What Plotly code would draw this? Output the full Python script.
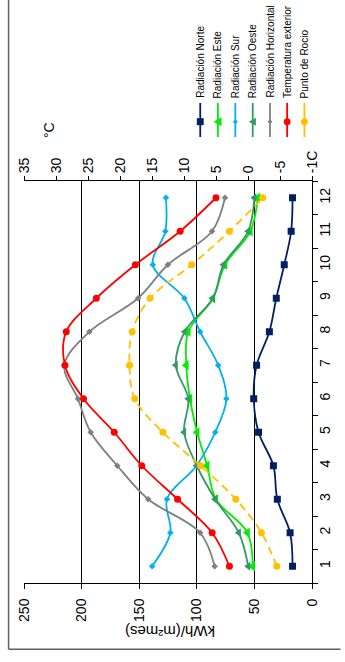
import plotly.graph_objects as go

# Monthly solar radiation (kWh/(m2 mes)) per orientation and monthly temperatures (°C)
months = [str(m) for m in range(1, 13)]
rad_norte = [16.9, 19.0, 30.1, 33.5, 46.4, 50.6, 48.1, 37.0, 31.0, 24.1, 18.1, 16.9]
rad_este = [51.5, 56.0, 83.4, 91.0, 99.7, 105.9, 109.1, 107.4, 86.0, 75.5, 53.5, 47.0]
rad_sur = [138.8, 123.0, 125.9, 100.3, 84.0, 74.3, 81.4, 97.1, 110.8, 138.2, 127.3, 126.8]
rad_oeste = [55.4, 63.5, 84.0, 100.0, 111.0, 107.4, 118.2, 110.5, 86.0, 76.8, 55.4, 50.0]
rad_horizontal = [84.5, 97.1, 142.2, 169.0, 192.1, 203.2, 215.0, 193.2, 151.0, 125.1, 86.8, 75.5]
temp_exterior = [2.9, 5.6, 11.0, 16.6, 20.9, 25.7, 28.6, 28.4, 23.7, 17.6, 10.6, 5.0]
punto_rocio = [-4.5, -2.1, 1.9, 7.4, 13.3, 17.7, 18.5, 18.1, 15.3, 8.8, 2.9, -2.3]

kwh_ticks = [0, 50, 100, 150, 200, 250]
temp_ticks = [35, 30, 25, 20, 15, 10, 5, 0, -5, -10]

W, H = 345, 662
ML, MR, MT, MB = 24, 28, 181, 79
FONT = "Liberation Sans, Arial, sans-serif"


def px_x(px):
    return (px - ML) / (W - ML - MR)


def px_y(py):
    return (H - MB - py) / (H - MT - MB)


def path_from_px(points):
    # closed SVG path in paper coordinates from pixel vertices
    parts = [f"{'M' if i == 0 else 'L'} {px_x(x):.5f},{px_y(y):.5f}" for i, (x, y) in enumerate(points)]
    return " ".join(parts) + " Z"


def legend_symbol(sym, cx, cy, size, color):
    r = size / 2
    if sym == "square":
        return dict(type="rect", xref="paper", yref="paper",
                    x0=px_x(cx - r), x1=px_x(cx + r), y0=px_y(cy + r), y1=px_y(cy - r),
                    fillcolor=color, line=dict(width=0))
    if sym == "circle":
        return dict(type="circle", xref="paper", yref="paper",
                    x0=px_x(cx - r), x1=px_x(cx + r), y0=px_y(cy + r), y1=px_y(cy - r),
                    fillcolor=color, line=dict(width=0))
    if sym == "triangle-left":
        pts = [(cx - r, cy), (cx + r * 0.8, cy - r), (cx + r * 0.8, cy + r)]
    else:  # diamond
        pts = [(cx, cy - r), (cx + r, cy), (cx, cy + r), (cx - r, cy)]
    return dict(type="path", xref="paper", yref="paper", path=path_from_px(pts),
                fillcolor=color, line=dict(width=0))


series = [
    # name, values, colour, symbol, size, dash, secondary axis
    ("Radiación Norte", rad_norte, "#002060", "square", 7, "solid", False),
    ("Radiación Este", rad_este, "#00EE00", "triangle-left", 9, "solid", False),
    ("Radiación Sur", rad_sur, "#00B0F0", "diamond", 5, "solid", False),
    ("Radiación Oeste", rad_oeste, "#339966", "triangle-left", 8, "solid", False),
    ("Radiación Horizontal", rad_horizontal, "#808080", "diamond", 5, "solid", False),
    ("Temperatura exterior", temp_exterior, "#FF0000", "circle", 7, "solid", True),
    ("Punto de Rocio", punto_rocio, "#FFC000", "circle", 7, "8px,5px", True),
]

fig = go.Figure()
for name, vals, color, sym, size, dash, sec in series:
    fig.add_trace(go.Scatter(
        x=vals, y=months, name=name, mode="lines+markers",
        xaxis="x2" if sec else "x", yaxis="y",
        line=dict(color=color, width=1.8, shape="spline", smoothing=1, dash=dash),
        marker=dict(color=color, symbol=sym, size=size),
        showlegend=False,
    ))

# Legend drawn vertically above the plot
leg_x = [203.3, 221.3, 239.0, 256.7, 274.3, 291.7, 309.3]
shapes = []
annotations = []
for (name, vals, color, sym, size, dash, sec), lx in zip(series, leg_x):
    shapes.append(dict(type="line", xref="paper", yref="paper",
                       x0=px_x(lx), x1=px_x(lx), y0=px_y(103), y1=px_y(137),
                       line=dict(color=color, width=1.8)))
    shapes.append(legend_symbol(sym, lx, 121.7, size, color))
    annotations.append(dict(text=name, xref="paper", yref="paper",
                            x=px_x(lx + 0.5), y=px_y(100), xanchor="center", yanchor="bottom",
                            textangle=-90, showarrow=False,
                            font=dict(family=FONT, size=10, color="black")))

annotations.append(dict(text="kWh/(m²mes)", xref="paper", yref="paper",
                        x=px_x(172.5), y=px_y(631.7), xanchor="center", yanchor="middle",
                        textangle=180, showarrow=False,
                        font=dict(family=FONT, size=15, color="black")))
annotations.append(dict(text="°C", xref="paper", yref="paper",
                        x=px_x(49.5), y=px_y(130), xanchor="center", yanchor="middle",
                        textangle=-90, showarrow=False,
                        font=dict(family=FONT, size=14, color="black")))

# Outer chart frame
shapes.append(dict(type="line", xref="paper", yref="paper",
                   x0=px_x(8.3), x1=px_x(8.3), y0=px_y(0), y1=px_y(649.3),
                   line=dict(color="#606060", width=1.5)))
shapes.append(dict(type="line", xref="paper", yref="paper",
                   x0=px_x(8.3), x1=px_x(346), y0=px_y(649.3), y1=px_y(649.3),
                   line=dict(color="#606060", width=1.5)))

tick_font = dict(family=FONT, size=14, color="black")

fig.update_layout(
    width=W, height=H,
    margin=dict(l=ML, r=MR, t=MT, b=MB),
    paper_bgcolor="white", plot_bgcolor="white",
    showlegend=False,
    xaxis=dict(range=[250, 0], tickvals=kwh_ticks, ticktext=[str(v) for v in kwh_ticks],
               tickangle=-90, ticks="outside", ticklen=5, tickcolor="black",
               showline=True, linecolor="black", linewidth=1,
               showgrid=True, gridcolor="black", gridwidth=1, zeroline=False,
               tickfont=tick_font, ticklabelstandoff=4, anchor="y"),
    xaxis2=dict(range=[35, -10], tickvals=temp_ticks,
                ticktext=["35", "30", "25", "20", "15", "10", "5", "0", "-5", "-1C"],
                tickangle=-90, ticks="outside", ticklen=4, tickcolor="black",
                showline=True, linecolor="black", linewidth=1,
                showgrid=False, zeroline=False, side="top", overlaying="x",
                tickfont=tick_font, anchor="y"),
    yaxis=dict(type="category", categoryorder="array", categoryarray=months,
               range=[-0.5, 11.5], side="right", tickangle=-90,
               tickson="boundaries", ticks="outside", ticklen=5, tickcolor="black",
               showline=True, linecolor="black", linewidth=1,
               showgrid=False, zeroline=False, tickfont=tick_font, anchor="x"),
    shapes=shapes,
    annotations=annotations,
)

fig.write_html("out.html")
